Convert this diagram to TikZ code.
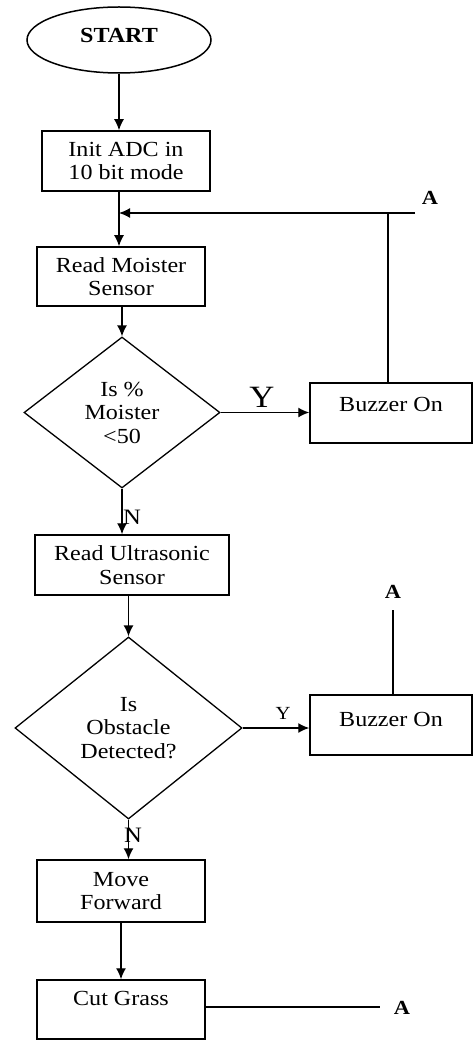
\documentclass[tikz,border=0pt]{standalone}
\usepackage{fontspec}
\setmainfont[FakeStretch=1.12]{Liberation Serif}
\usetikzlibrary{shapes.geometric,arrows.meta}
\newcommand{\myfs}[1]{\fontsize{#1}{#1}\selectfont}
\begin{document}
\begin{tikzpicture}[x=1pt,y=-1pt,
  every node/.style={font=\fontsize{21.5}{23.5}\selectfont},
  box/.style={draw, line width=1.5pt, rectangle, inner sep=0pt, align=center},
  dec/.style={draw, line width=1.3pt, diamond, inner sep=0pt, align=center},
  flow/.style={line width=1.4pt, -{Latex[length=11pt,width=10pt]}},
  plain/.style={line width=1.4pt},
  lab/.style={inner sep=0pt}]
\useasboundingbox (0,0) rectangle (473,1040);
\fill[white] (0,0) rectangle (473,1040);

% nodes
\node[draw, ellipse, line width=1.5pt, inner sep=0pt, minimum width=184pt, minimum height=66pt,
      text depth=10pt, font=\fontsize{21.5}{23.5}\selectfont\bfseries] (start) at (119,40) {START};
\node[box, minimum width=168pt, minimum height=60pt] (init) at (126,161) {Init ADC in\\10 bit mode};
\node[box, minimum width=168pt, minimum height=59pt] (read) at (121,276.5) {Read Moister\\Sensor};
\node[dec, minimum width=196pt, minimum height=151pt] (d1) at (122,412.5) {Is \%\\Moister\\<50};
\node[box, minimum width=162pt, minimum height=60pt, text depth=17.5pt] (b1) at (391,413) {Buzzer On};
\node[box, minimum width=194pt, minimum height=60pt] (ultra) at (132,565) {Read Ultrasonic\\Sensor};
\node[dec, minimum width=227pt, minimum height=182pt] (d2) at (128.5,728) {Is\\Obstacle\\Detected?};
\node[box, minimum width=162pt, minimum height=60pt, text depth=11.5pt] (b2) at (391,725) {Buzzer On};
\node[box, minimum width=168pt, minimum height=62pt] (move) at (121,891) {Move\\Forward};
\node[box, minimum width=168pt, minimum height=59pt, text depth=22.5pt] (cut) at (121,1009.5) {Cut Grass};

% labels
\node[lab, font=\myfs{20}\bfseries] (A1) at (430,198) {A};
\node[lab, font=\myfs{20}\bfseries] (A2) at (393,592) {A};
\node[lab, font=\myfs{20}\bfseries] (A3) at (402,1008) {A};
\node[lab, font=\myfs{31}] (Y1) at (262,397) {Y};
\node[lab, font=\myfs{18.5}] (Y2) at (283,713) {Y};
\node[lab, font=\myfs{22}] (N1) at (132,517) {N};
\node[lab, font=\myfs{22}] (N2) at (133,835) {N};

\coordinate (a1) at (415,213);
\coordinate (fb) at (388,213);
\coordinate (a2) at (393,610);
\coordinate (a3) at (380,1007);

% connectors
\draw[flow] (start.south) -- (start.south |- init.north);
\draw[flow] (start.south |- init.south) -- (start.south |- read.north);
\draw[flow] (a1) -- (start.south |- a1);
\draw[plain] (b1.north -| fb) -- (fb);
\draw[flow] (d1.north |- read.south) -- (d1.north);
\draw[flow] (d1.east) -- (d1.east -| b1.west);
\draw[flow] (d1.south) -- (d1.south |- ultra.north);
\draw[flow] (d2.north |- ultra.south) -- (d2.north);
\draw[flow] (d2.east) -- (d2.east -| b2.west);
\draw[plain] (b2.north -| a2) -- (a2);
\draw[flow] (d2.south) -- (d2.south |- move.north);
\draw[flow] (move.south) -- (cut.north);
\draw[plain] (cut.east |- a3) -- (a3);
\end{tikzpicture}
\end{document}
